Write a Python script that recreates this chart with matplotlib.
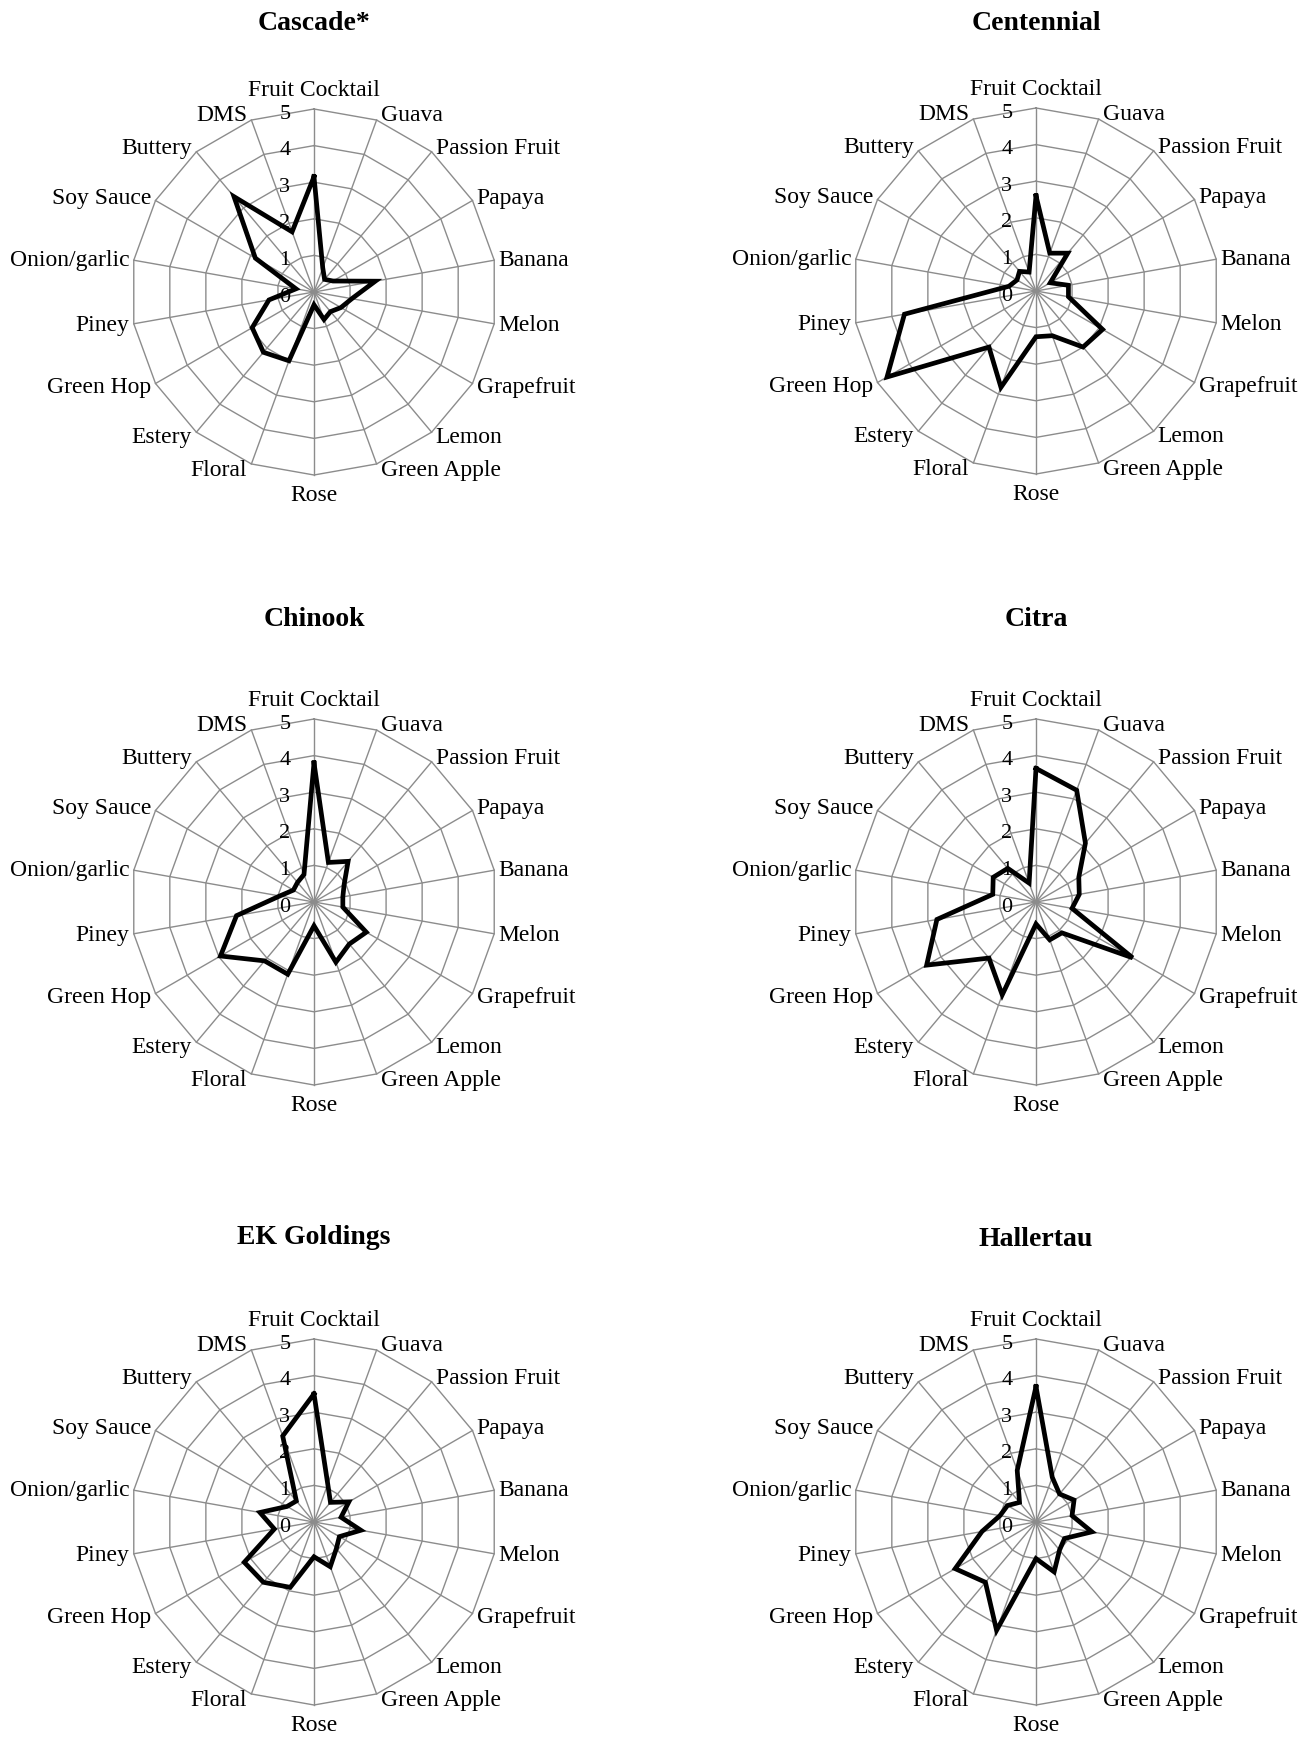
import numpy as np
import matplotlib
matplotlib.use('Agg')
import matplotlib.pyplot as plt

plt.rcParams['font.family'] = ['Liberation Serif', 'DejaVu Serif']

# 香气属性 (顺时针, 从顶部开始)
categories = ['Fruit Cocktail', 'Guava', 'Passion Fruit', 'Papaya', 'Banana', 'Melon',
              'Grapefruit', 'Lemon', 'Green Apple', 'Rose', 'Floral', 'Estery',
              'Green Hop', 'Piney', 'Onion/garlic', 'Soy Sauce', 'Buttery', 'DMS']
scale_ticks = [0, 1, 2, 3, 4, 5]

titles = ['Cascade*', 'Centennial', 'Chinook', 'Citra', 'EK Goldings', 'Hallertau']

cascade = [3.15, 0.7, 0.45, 0.6, 1.7, 1.05, 0.85, 0.7, 0.8, 0.35, 2.0, 2.15, 1.95, 1.25, 0.5, 1.85, 3.4, 1.75]
centennial = [2.6, 1.1, 1.35, 0.45, 0.9, 0.9, 2.1, 2.0, 1.3, 1.25, 2.8, 2.0, 4.7, 3.65, 0.75, 0.6, 0.7, 0.55]
chinook = [3.8, 1.15, 1.45, 0.95, 0.8, 0.8, 1.65, 1.5, 1.75, 0.65, 2.1, 2.1, 2.95, 2.15, 0.95, 0.65, 0.7, 0.8]
citra = [3.65, 3.25, 2.1, 1.35, 1.2, 1.0, 3.05, 1.1, 1.1, 0.6, 2.7, 2.0, 3.45, 2.75, 1.2, 1.35, 1.2, 0.55]
ek_goldings = [3.5, 1.1, 0.7, 1.1, 0.75, 1.3, 0.8, 0.95, 1.3, 0.95, 1.9, 2.15, 2.2, 1.1, 1.5, 0.85, 0.75, 2.5]
hallertau = [3.7, 1.3, 1.0, 1.2, 1.0, 1.55, 0.9, 1.0, 1.45, 1.0, 3.15, 2.15, 2.55, 1.5, 1.0, 0.9, 0.7, 1.5]

all_values = [cascade, centennial, chinook, citra, ek_goldings, hallertau]

W, H = 1309, 1740
fig = plt.figure(figsize=(W / 100, H / 100), dpi=100)

# 图的中心位置 (像素)
centers = [(314, 293), (1036, 292), (314, 903), (1036, 903), (314, 1523), (1036, 1523)]
title_y = [23, 23, 619, 619, 1238, 1240]
R = 183

n = len(categories)
theta = np.linspace(0, 2 * np.pi, n, endpoint=False)
theta_closed = np.append(theta, theta[0])
grid_color = '#8c8c8c'

for k, (vals, title) in enumerate(zip(all_values, titles)):
    cx, cy = centers[k]
    ax = fig.add_axes([(cx - R) / W, 1 - (cy + R) / H, 2 * R / W, 2 * R / H], projection='polar')
    ax.set_theta_zero_location('N')
    ax.set_theta_direction(-1)
    ax.set_ylim(0, 5)
    ax.grid(False)
    ax.set_xticks([])
    ax.set_yticks([])
    ax.spines['polar'].set_visible(False)
    ax.patch.set_alpha(0)

    # 蛛网网格
    for r in scale_ticks[1:]:
        ax.plot(theta_closed, [r] * (n + 1), color=grid_color, lw=1.0, clip_on=False)
    for t in theta:
        ax.plot([t, t], [0, 5], color=grid_color, lw=1.0, clip_on=False)

    v = list(vals) + [vals[0]]
    ax.plot(theta_closed, v, color='black', lw=3.4, solid_joinstyle='miter', clip_on=False, zorder=5)

    for r in scale_ticks:
        ax.annotate(str(r), xy=(0, r), xytext=(-21, -3), textcoords='offset points',
                    ha='center', va='center', fontsize=16, annotation_clip=False)

    for t, cat in zip(theta, categories):
        s, c = np.sin(t), np.cos(t)
        if abs(s) < 0.1:
            ax.annotate(cat, xy=(t, 5), xytext=(0, 14 * np.sign(c)), textcoords='offset points',
                        ha='center', va='center', fontsize=17, annotation_clip=False)
        else:
            ax.annotate(cat, xy=(t, 5), xytext=(3 * np.sign(s), 4 * c), textcoords='offset points',
                        ha='left' if s > 0 else 'right', va='center', fontsize=17,
                        annotation_clip=False)

    fig.text(cx / W, 1 - title_y[k] / H, title, ha='center', va='center',
             fontsize=20, fontweight='bold')

plt.savefig('out.png', dpi=100)
